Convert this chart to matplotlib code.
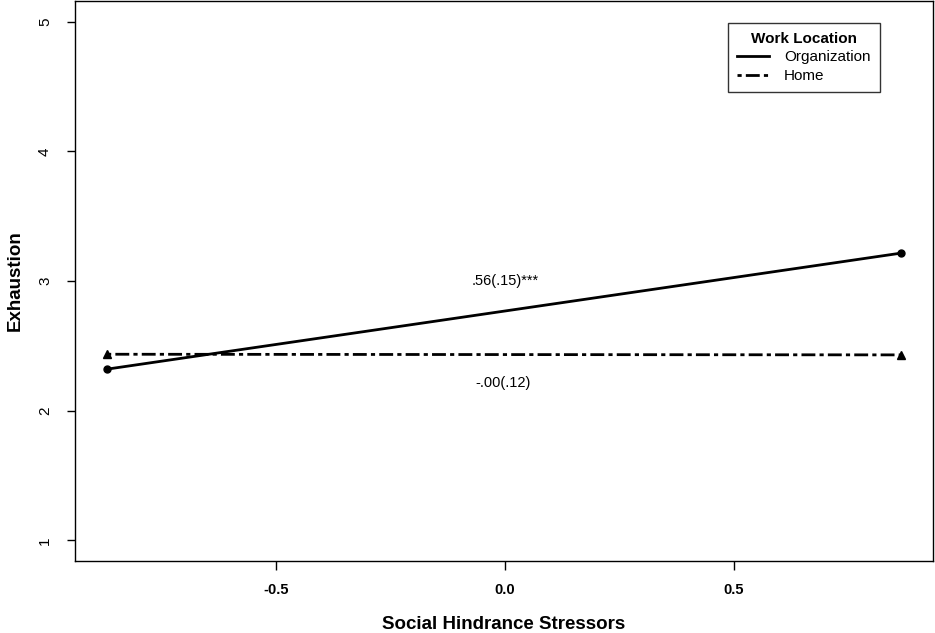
import numpy as np
import matplotlib
matplotlib.use("Agg")
import matplotlib.pyplot as plt

# simple slopes: low / high social hindrance stressors
x_vals = [-0.87, 0.865]
org_vals = [2.32, 3.215]
home_vals = [2.435, 2.43]
series_names = ["Organization", "Home"]
slope_labels = [".56(.15)***", "-.00(.12)"]
x_ticks = [-0.5, 0.0, 0.5]
y_ticks = [1, 2, 3, 4, 5]

plt.rcParams['font.family'] = ['Liberation Sans', 'DejaVu Sans']

fig = plt.figure(figsize=(9.35, 6.33), dpi=100)
ax = fig.add_axes([75/935, 1 - 561/633, (933-75)/935, (561-1)/633])

ax.plot(x_vals, org_vals, color='black', lw=2.0, marker='o', ms=5,
        label=series_names[0])
ax.plot(x_vals, home_vals, color='black', lw=2.0, marker='^', ms=6,
        dashes=(1.5, 1.5, 5, 1.5), label=series_names[1])

ax.text(0.0, 3.0, slope_labels[0], ha='center', va='center', fontsize=10.5)
ax.text(-0.005, 2.21, slope_labels[1], ha='center', va='center', fontsize=10.5)

ax.set_xlim(-0.94, 0.935)
ax.set_ylim(0.84, 5.16)
ax.set_xticks(x_ticks)
ax.set_xticklabels(["%.1f" % v for v in x_ticks], fontweight='bold', fontsize=10.5)
ax.set_yticks(y_ticks)
ax.set_yticklabels([str(v) for v in y_ticks], rotation=90, va='center', fontsize=11)
ax.tick_params(axis='x', length=6.5, pad=9, width=1)
ax.tick_params(axis='y', length=5.5, pad=11, width=1)

for s in ax.spines.values():
    s.set_linewidth(1.0)

ax.set_xlabel("Social Hindrance Stressors", fontsize=13.5, fontweight='bold', labelpad=14)
ax.set_ylabel("Exhaustion", fontsize=13.5, fontweight='bold', labelpad=10)

leg = ax.legend(title="Work Location", loc='upper right', bbox_to_anchor=(0.947, 0.975),
                fancybox=False, edgecolor='black', fontsize=11, handlelength=2.1,
                borderpad=0.6, labelspacing=0.3, markerscale=0, handletextpad=1.0)
leg.get_title().set_fontweight('bold')
leg.get_title().set_fontsize(11)
leg.get_frame().set_linewidth(1.0)
for h in leg.legend_handles:
    h.set_marker('')

fig.savefig("out.png", dpi=100)
